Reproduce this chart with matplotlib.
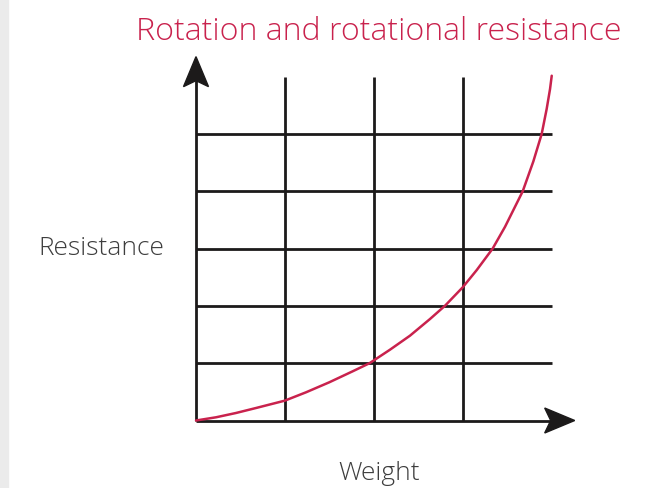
import numpy as np
import matplotlib.pyplot as plt
from matplotlib.patches import Polygon, Rectangle
from matplotlib.transforms import ScaledTranslation

# grid positions (data units)
x_grid = [1, 2, 3]
y_grid = [1, 2, 3, 4, 5]
x_max = 4.0
y_max = 6.0

# curve
weight = [0.0, 0.225, 0.449, 0.674, 0.997, 1.236, 1.498, 1.761, 1.95, 2.180,
          2.404, 2.629, 2.798, 2.997, 3.154, 3.333, 3.472, 3.671, 3.790, 3.884,
          3.940, 3.978, 3.997]
resistance = [0.0, 0.056, 0.131, 0.218, 0.346, 0.492, 0.667, 0.859, 1.0, 1.236,
              1.480, 1.771, 2.003, 2.325, 2.625, 3.0, 3.38, 4.0, 4.52, 5.0,
              5.436, 5.785, 6.017]

title = "Rotation and rotational resistance"
xlabel = "Weight"
ylabel = "Resistance"

red = "#c9224d"
ink = "#1c1a1a"

fig = plt.figure(figsize=(6.58, 4.89), dpi=100)
fig.patches.append(Rectangle((0, 0), 8 / 658, 1, transform=fig.transFigure,
                             color="#ebebeb", zorder=0))
ax = fig.add_axes([0, 0, 1, 1])
ax.set_xlim(-196 / 89.0, (658 - 196) / 89.0)
ax.set_ylim(-(489 - 421.5) / 57.3, 421.5 / 57.3)
ax.axis("off")

lw = 2.0
for x in x_grid:
    ax.plot([x, x], [0, y_max], color=ink, lw=lw, solid_capstyle="butt")
for y in y_grid:
    ax.plot([0, x_max], [y, y], color=ink, lw=lw, solid_capstyle="butt")

# axes with arrows
ax.plot([0, 0], [0, 6.1], color=ink, lw=lw, solid_capstyle="butt")
ax.plot([0, 4.1], [0, 0], color=ink, lw=lw, solid_capstyle="butt")


def arrow_head(tip, direction):
    L, W, n = 0.30, 0.125, 0.06
    pts = np.array([[0, 0], [-L, W], [-L + n, 0], [-L, -W]])
    if direction == "up":
        pts = pts[:, ::-1]
    tr = fig.dpi_scale_trans + ScaledTranslation(tip[0], tip[1], ax.transData)
    ax.add_patch(Polygon(pts, closed=True, color=ink, transform=tr, zorder=5))


arrow_head((4.255, 0), "right")
arrow_head((0, 6.35), "up")

ax.plot(weight, resistance, color=red, lw=1.8, zorder=6,
        solid_capstyle="round", solid_joinstyle="round")

fam = ["Open Sans", "DejaVu Sans"]
fig.text(378.5 / 658, 1 - 39.5 / 489, title, color=red, fontsize=23.1, family=fam,
         fontweight="light", ha="center", va="baseline")
fig.text(101.5 / 658, 1 - 255.5 / 489, ylabel, color="#3d3d3d", fontsize=19, family=fam,
         fontweight="light", ha="center", va="baseline")
fig.text(379 / 658, 1 - 480.5 / 489, xlabel, color="#3d3d3d", fontsize=19, family=fam,
         fontweight="light", ha="center", va="baseline")

fig.savefig("out.png", dpi=100)
